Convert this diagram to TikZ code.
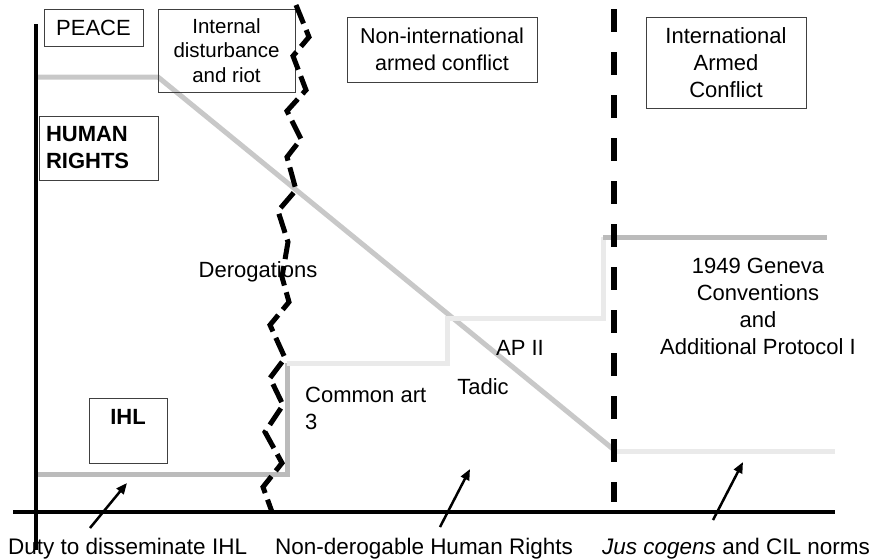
\documentclass[tikz,border=0pt]{standalone}
\usepackage{fontspec}
\setmainfont{Liberation Sans}
\definecolor{RightsGray}{RGB}{200,200,200}
\definecolor{LawGray}{RGB}{187,187,187}
\definecolor{PaleGray}{RGB}{234,234,234}
\usetikzlibrary{arrows.meta}

\begin{document}
\begin{tikzpicture}[
    x=1pt, y=-1pt,
    box/.style={rectangle, draw=black!75, line width=0.8pt, align=center, font=\fontsize{22}{27}\selectfont},
    lbl/.style={inner sep=0pt, font=\fontsize{22}{27}\selectfont},
    axis/.style={line width=4pt, black},
    band/.style={line width=5pt, #1},
    divide/.style={line width=6pt, black, dash pattern=on 23pt off 20pt},
    zig/.style={line width=5pt, black, dash pattern=on 20pt off 7pt},
    arr/.style={-{Triangle[length=11pt,width=9pt]}, line width=2.5pt, black}
]
    \useasboundingbox (0,0) rectangle (877,558);
    \draw[band=RightsGray] (36,77) -- (158,77) -- (613,449);
    \draw[band=PaleGray] (613,451) -- (835,451);
    \draw[band=LawGray] (38,474) -- (287,474) -- (287,363);
    \draw[band=PaleGray] (287,363) -- (447,363) -- (447,318) -- (603,318) -- (603,237);
    \draw[band=LawGray] (603,237) -- (827,237);
    \draw[axis] (36,24) -- (36,550);
    \draw[axis] (13,512) -- (835,512);
    \node[box, minimum width=99pt, minimum height=37pt] (peace) at (93.5,27.5) {PEACE};
    \node[box, minimum width=137pt, minimum height=83pt, font=\fontsize{20.5}{24.5}\selectfont] (riot) at (226.5,50.5) {Internal\\disturbance\\and riot};
    \node[box, text width=105pt, inner xsep=7pt, minimum height=64pt, align=left, font=\fontsize{22}{27}\selectfont\bfseries] (rights) at (98.5,148) {HUMAN\\RIGHTS};
    \node[box, minimum width=190pt, minimum height=65pt, font=\fontsize{21.5}{27}\selectfont] (nonint) at (442,49.5) {Non-international\\armed conflict};
    \node[box, minimum width=160pt, minimum height=91pt] (intl) at (726,62.5) {International\\Armed\\Conflict};
    \node[box, minimum width=78pt, text height=22.5pt, text depth=34.5pt, inner ysep=4pt, font=\fontsize{22}{27}\selectfont\bfseries] (ihl) at (128,430.5) {IHL};
    \node[lbl] (derog) at (258,272) {Derogations};
    \node[lbl, align=left, anchor=west] (commonart) at (305,408) {Common art\\3};
    \node[lbl] (apii) at (520,348) {AP II};
    \node[lbl] (tadic) at (483,387) {Tadic};
    \node[lbl, align=center] (geneva) at (758,306) {1949 Geneva\\Conventions\\and\\Additional Protocol I};
    \node[lbl, anchor=base west, font=\fontsize{22.5}{27}\selectfont] (duty) at (8,554) {Duty to disseminate IHL};
    \node[lbl, anchor=base west, font=\fontsize{22.5}{27}\selectfont] (nonderog) at (275,554) {Non-derogable Human Rights};
    \node[lbl, anchor=base west, font=\fontsize{22.5}{27}\selectfont] (jus) at (602,554) {\textit{Jus cogens} and CIL norms};
    \draw[divide] (614,9) -- (614,502);
    \draw[zig] (296,5) -- (309,37) -- (293,56) -- (306,90) -- (287,111) -- (301,139) -- (287,157)
        -- (296,190) -- (278,211) -- (288,242) -- (282,277) -- (289,302) -- (270,325) -- (285,358)
        -- (270,378) -- (283,405) -- (265,432) -- (282,463) -- (263,487) -- (272,512);
    \coordinate (dutyTail) at (90,528);
    \coordinate (dutyTip) at (127,483);
    \coordinate (nonderogTail) at (440,527);
    \coordinate (nonderogTip) at (470,469);
    \coordinate (jusTail) at (713,520);
    \coordinate (jusTip) at (743,462);
    \draw[arr] (dutyTail) -- (dutyTip);
    \draw[arr] (nonderogTail) -- (nonderogTip);
    \draw[arr] (jusTail) -- (jusTip);
\end{tikzpicture}
\end{document}
